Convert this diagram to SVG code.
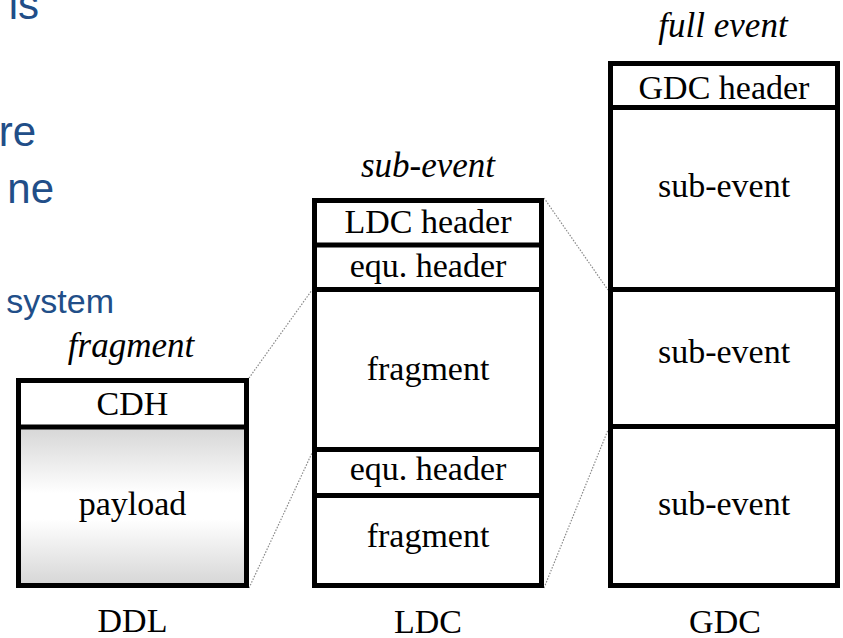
<svg xmlns="http://www.w3.org/2000/svg" width="843" height="638" viewBox="0 0 843 638">
  <style>
    .frame { fill: none; stroke: #000; stroke-width: 5; }
    .div { stroke: #000; stroke-width: 5; }
    .lbl { font-family: "Liberation Serif", "Times New Roman", serif; font-size: 34px; fill: #000; text-anchor: middle; }
    .ttl { font-family: "Liberation Serif", "Times New Roman", serif; font-size: 35px; font-style: italic; fill: #000; text-anchor: middle; }
    .slide { font-family: "Liberation Sans", Arial, sans-serif; fill: #214E88; text-anchor: end; }
    .link { stroke: #8a8a8a; stroke-width: 1.2; stroke-dasharray: 1.5 1.5; fill: none; }
  </style>
  <defs>
    <linearGradient id="payloadFill" x1="0" y1="0" x2="0" y2="1">
      <stop offset="0" stop-color="#d6d6d6"/>
      <stop offset="0.42" stop-color="#ffffff"/>
      <stop offset="0.58" stop-color="#ffffff"/>
      <stop offset="1" stop-color="#d6d6d6"/>
    </linearGradient>
  </defs>
  <rect width="843" height="638" fill="#fff"/>

  <!-- slide body text cut at the left edge -->
  <g id="slide-text">
    <text class="slide" x="39" y="19" font-size="42">is</text>
    <text class="slide" x="36" y="146" font-size="42">re</text>
    <text class="slide" x="54" y="203" font-size="42">ne</text>
    <text class="slide" x="114" y="313" font-size="34">system</text>
  </g>

  <!-- dotted links between the levels -->
  <g id="connectors">
    <line class="link" x1="249" y1="378" x2="312" y2="290"/>
    <line class="link" x1="249" y1="588" x2="312" y2="453"/>
    <line class="link" x1="544" y1="198" x2="608" y2="290"/>
    <line class="link" x1="544" y1="588" x2="608" y2="430"/>
  </g>

  <!-- DDL: fragment -->
  <g id="ddl">
    <text class="ttl" x="131" y="357">fragment</text>
    <rect x="18.5" y="427" width="228" height="158.5" fill="url(#payloadFill)"/>
    <rect class="frame" x="18.5" y="380.5" width="228" height="205"/>
    <line class="div" x1="18.5" y1="427" x2="246.5" y2="427"/>
    <text class="lbl" x="132.5" y="415">CDH</text>
    <text class="lbl" x="132.5" y="515">payload</text>
    <text class="lbl" x="132.5" y="632">DDL</text>
  </g>

  <!-- LDC: sub-event -->
  <g id="ldc">
    <text class="ttl" x="428" y="177">sub-event</text>
    <rect class="frame" x="314.5" y="200.5" width="227" height="385"/>
    <line class="div" x1="314.5" y1="245" x2="541.5" y2="245"/>
    <line class="div" x1="314.5" y1="289.5" x2="541.5" y2="289.5"/>
    <line class="div" x1="314.5" y1="449.5" x2="541.5" y2="449.5"/>
    <line class="div" x1="314.5" y1="495.5" x2="541.5" y2="495.5"/>
    <text class="lbl" x="428" y="233">LDC header</text>
    <text class="lbl" x="428" y="277">equ. header</text>
    <text class="lbl" x="428" y="380">fragment</text>
    <text class="lbl" x="428" y="480">equ. header</text>
    <text class="lbl" x="428" y="547">fragment</text>
    <text class="lbl" x="428" y="633">LDC</text>
  </g>

  <!-- GDC: full event -->
  <g id="gdc">
    <text class="ttl" x="723" y="37">full event</text>
    <rect class="frame" x="610.5" y="63.5" width="227" height="522"/>
    <line class="div" x1="610.5" y1="107.5" x2="837.5" y2="107.5"/>
    <line class="div" x1="610.5" y1="289.5" x2="837.5" y2="289.5"/>
    <line class="div" x1="610.5" y1="426.5" x2="837.5" y2="426.5"/>
    <text class="lbl" x="724" y="99">GDC header</text>
    <text class="lbl" x="724" y="197">sub-event</text>
    <text class="lbl" x="724" y="363">sub-event</text>
    <text class="lbl" x="724" y="515">sub-event</text>
    <text class="lbl" x="725" y="633">GDC</text>
  </g>
</svg>
